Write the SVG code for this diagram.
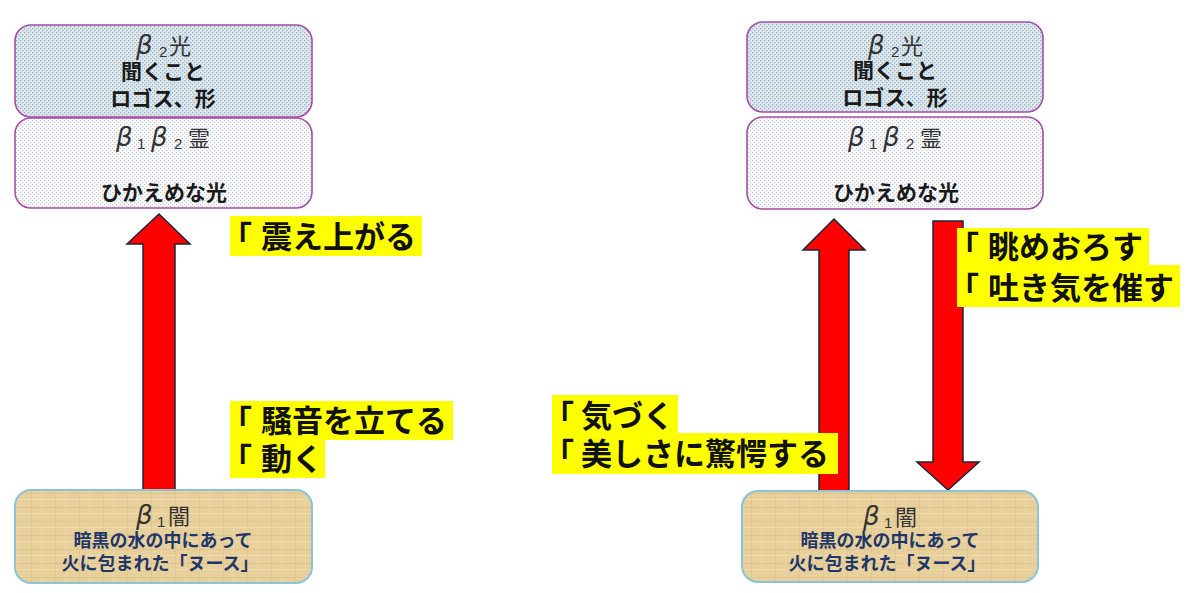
<svg xmlns="http://www.w3.org/2000/svg" width="1200" height="593" viewBox="0 0 1200 593">
<defs>
<pattern id="dotsBlue" width="4" height="4" patternUnits="userSpaceOnUse">
<rect width="4" height="4" fill="#dce8ee"/>
<rect x="0" y="0" width="1.3" height="1.3" fill="#9db2c0"/>
<rect x="2" y="2" width="1.3" height="1.3" fill="#9db2c0"/>
</pattern>
<pattern id="dotsWhite" width="4" height="4" patternUnits="userSpaceOnUse">
<rect width="4" height="4" fill="#fbfbfd"/>
<rect x="0" y="0" width="1.2" height="1.2" fill="#c2c6d4"/>
<rect x="2" y="2" width="1.2" height="1.2" fill="#c2c6d4"/>
</pattern>
<pattern id="parch" width="24" height="14" patternUnits="userSpaceOnUse">
<rect width="24" height="14" fill="#e7d09c"/>
<rect x="0" y="3" width="24" height="1" fill="#dcc188" opacity="0.7"/>
<rect x="0" y="9" width="24" height="1" fill="#f1dcad" opacity="0.8"/>
<rect x="7" y="0" width="1" height="14" fill="#d8bd85" opacity="0.5"/>
<rect x="17" y="0" width="1" height="14" fill="#f0dba9" opacity="0.6"/>
</pattern>
<style>
.top{fill:url(#dotsBlue);stroke:#a54ea5;stroke-width:1.6}
.mid{fill:url(#dotsWhite);stroke:#a54ea5;stroke-width:1.6}
.bot{fill:url(#parch);stroke:#8cc3d8;stroke-width:2}
.hd{font-family:"Noto Sans CJK JP",sans-serif;font-size:22px;fill:#333}
.beta{font-family:"DejaVu Sans",sans-serif;font-style:italic;font-size:26px}
.sub{font-family:"Liberation Sans",sans-serif;font-size:15px}
.bk{font-family:"Noto Sans CJK JP",sans-serif;font-weight:bold;font-size:21px;fill:#1a1a1a;text-anchor:middle}
.nv{font-family:"Noto Sans CJK JP",sans-serif;font-weight:bold;font-size:18px;fill:#1f3768;text-anchor:middle}
.arrow{fill:#ff0000;stroke:#1c2438;stroke-width:1.5;stroke-linejoin:miter}
.hl{fill:#ffff00}
.lb{font-family:"Noto Sans CJK JP",sans-serif;font-weight:bold;font-size:31px;fill:#111}
</style>
</defs>
<rect width="1200" height="593" fill="#ffffff"/>

<g id="connectors">
<path class="arrow" d="M143,490 L143,244 L127,244 L159,214 L190,244 L175,244 L175,490 Z"/>
<path class="arrow" d="M819,492 L819,250 L803,250 L834,219 L865,250 L849,250 L849,492 Z"/>
<path class="arrow" d="M933,221 L963,221 L963,462 L979,462 L948,490 L917,462 L933,462 Z"/>
</g>

<g id="node-left-light">
<rect class="top" x="15" y="25" width="297" height="92" rx="16"/>
<text class="hd" y="54"><tspan class="beta" x="136">β</tspan><tspan class="sub" x="159" y="57">2</tspan><tspan x="169" y="54">光</tspan></text>
<text class="bk" x="163" y="79">聞くこと</text>
<text class="bk" x="163" y="106">ロゴス、形</text>
</g>
<g id="node-left-spirit">
<rect class="mid" x="15" y="118" width="297" height="90" rx="16"/>
<text class="hd" y="146"><tspan class="beta" x="116">β</tspan><tspan class="sub" x="137" y="149">1</tspan><tspan class="beta" x="151" y="146">β</tspan><tspan class="sub" x="174" y="149">2</tspan><tspan x="188" y="146">霊</tspan></text>
<text class="bk" x="164" y="200">ひかえめな光</text>
</g>
<g id="node-left-dark">
<rect class="bot" x="15" y="490" width="297" height="93" rx="16"/>
<text class="hd" y="524"><tspan class="beta" x="136">β</tspan><tspan class="sub" x="157" y="527">1</tspan><tspan x="168" y="524">闇</tspan></text>
<text class="nv" x="163" y="547">暗黒の水の中にあって</text>
<text class="nv" x="160" y="570">火に包まれた「ヌース」</text>
</g>

<g id="node-right-light">
<rect class="top" x="747" y="22" width="296" height="90" rx="16"/>
<text class="hd" y="54"><tspan class="beta" x="868">β</tspan><tspan class="sub" x="891" y="57">2</tspan><tspan x="901" y="54">光</tspan></text>
<text class="bk" x="895" y="78">聞くこと</text>
<text class="bk" x="895" y="105">ロゴス、形</text>
</g>
<g id="node-right-spirit">
<rect class="mid" x="747" y="117" width="296" height="92" rx="16"/>
<text class="hd" y="146"><tspan class="beta" x="848">β</tspan><tspan class="sub" x="869" y="149">1</tspan><tspan class="beta" x="883" y="146">β</tspan><tspan class="sub" x="906" y="149">2</tspan><tspan x="920" y="146">霊</tspan></text>
<text class="bk" x="896" y="200">ひかえめな光</text>
</g>
<g id="node-right-dark">
<rect class="bot" x="742" y="491" width="296" height="91" rx="16"/>
<text class="hd" y="525"><tspan class="beta" x="863">β</tspan><tspan class="sub" x="884" y="528">1</tspan><tspan x="895" y="525">闇</tspan></text>
<text class="nv" x="890" y="547">暗黒の水の中にあって</text>
<text class="nv" x="887" y="570">火に包まれた「ヌース」</text>
</g>

<g id="labels">
<rect class="hl" x="230" y="216" width="192" height="40"/>
<text class="lb" y="248"><tspan x="221">「</tspan><tspan x="261">震え上がる</tspan></text>
<rect class="hl" x="230" y="401" width="223" height="39"/>
<text class="lb" y="432"><tspan x="221">「</tspan><tspan x="261">騒音を立てる</tspan></text>
<rect class="hl" x="230" y="440" width="95" height="38"/>
<text class="lb" y="470"><tspan x="221">「</tspan><tspan x="261">動く</tspan></text>

<rect class="hl" x="957" y="228" width="192" height="37"/>
<text class="lb" y="258"><tspan x="948">「</tspan><tspan x="988">眺めおろす</tspan></text>
<rect class="hl" x="957" y="265" width="223" height="42"/>
<text class="lb" y="299"><tspan x="948">「</tspan><tspan x="988">吐き気を催す</tspan></text>

<rect class="hl" x="552" y="395" width="126" height="38"/>
<text class="lb" y="427"><tspan x="543">「</tspan><tspan x="581">気づく</tspan></text>
<rect class="hl" x="552" y="433" width="286" height="41"/>
<text class="lb" y="465"><tspan x="543">「</tspan><tspan x="581">美しさに驚愕する</tspan></text>
</g>
</svg>
